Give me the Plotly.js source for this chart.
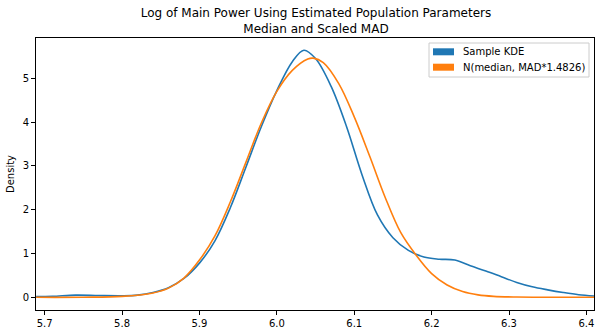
<!DOCTYPE html>
<html>
<head>
<meta charset="utf-8">
<script src="https://cdn.plot.ly/plotly-3.0.1.min.js"></script>
<style>html,body{margin:0;padding:0;background:#fff;}#chart{width:603px;height:334px;}</style>
</head>
<body>
<div id="chart"></div>
<script>
// Sample KDE
var kdeX = [5.689, 5.71, 5.74, 5.77, 5.80, 5.82, 5.84, 5.86, 5.88, 5.90, 5.92, 5.94, 5.96, 5.98, 6.00, 6.02, 6.035, 6.05, 6.07, 6.09, 6.11, 6.13, 6.15, 6.17, 6.19, 6.21, 6.23, 6.25, 6.27, 6.29, 6.31, 6.33, 6.35, 6.37, 6.39, 6.41];
var kdeY = [0.015, 0.02, 0.05, 0.04, 0.035, 0.05, 0.11, 0.22, 0.43, 0.78, 1.29, 2.05, 2.97, 3.90, 4.72, 5.38, 5.64, 5.45, 4.82, 3.90, 2.80, 1.88, 1.36, 1.07, 0.92, 0.87, 0.85, 0.72, 0.60, 0.47, 0.34, 0.24, 0.17, 0.11, 0.06, 0.03];
// N(median, MAD*1.4826)
var normX = [5.689, 5.75, 5.80, 5.84, 5.86, 5.88, 5.90, 5.92, 5.94, 5.96, 5.98, 6.00, 6.02, 6.04, 6.047, 6.06, 6.08, 6.10, 6.12, 6.14, 6.16, 6.18, 6.20, 6.22, 6.24, 6.26, 6.28, 6.31, 6.35, 6.41];
var normY = [0.0, 0.002, 0.02, 0.10, 0.21, 0.44, 0.85, 1.40, 2.18, 3.08, 3.98, 4.70, 5.18, 5.44, 5.46, 5.36, 4.88, 4.12, 3.22, 2.28, 1.48, 0.96, 0.54, 0.28, 0.13, 0.055, 0.022, 0.007, 0.002, 0.0];
var seriesNames = ["Sample KDE", "N(median, MAD*1.4826)"];
var seriesColors = ["#1f77b4", "#ff7f0e"];
var xTicks = [5.7, 5.8, 5.9, 6.0, 6.1, 6.2, 6.3, 6.4];
var xTickText = ["5.7", "5.8", "5.9", "6.0", "6.1", "6.2", "6.3", "6.4"];
var yTicks = [0, 1, 2, 3, 4, 5];

var font = "DejaVu Sans, sans-serif";
var traces = [
  {x: kdeX, y: kdeY, type: "scatter", mode: "lines", name: seriesNames[0], line: {color: seriesColors[0], width: 1.6, shape: "spline", smoothing: 1}, showlegend: false, hoverinfo: "skip"},
  {x: normX, y: normY, type: "scatter", mode: "lines", name: seriesNames[1], line: {color: seriesColors[1], width: 1.6, shape: "spline", smoothing: 1}, showlegend: false, hoverinfo: "skip"}
];

// plot area in pixels: x 36..594, y 38..310
function px(x) { return (x - 36) / 558; }
function py(y) { return (310 - y) / 272; }

var shapes = [
  {type: "rect", xref: "paper", yref: "paper", x0: px(429), x1: px(589), y0: py(77), y1: py(43), line: {color: "#cccccc", width: 1}, fillcolor: "rgba(255,255,255,0.8)", layer: "above"}
];
var annotations = [];
var rowY = [51.8, 67.2];
for (var i = 0; i < seriesNames.length; i++) {
  shapes.push({type: "rect", xref: "paper", yref: "paper", x0: px(433), x1: px(454), y0: py(rowY[i] + 3.5), y1: py(rowY[i] - 3.5), line: {width: 0}, fillcolor: seriesColors[i], layer: "above"});
  annotations.push({xref: "paper", yref: "paper", x: px(461), y: py(rowY[i]), xanchor: "left", yanchor: "middle", showarrow: false, text: seriesNames[i], font: {family: font, size: 10, color: "#000"}});
}

var axisCommon = {
  showgrid: false, zeroline: false, showline: true, linecolor: "#000", linewidth: 1, mirror: true,
  ticks: "outside", ticklen: 4, tickwidth: 1, tickcolor: "#000",
  tickfont: {family: font, size: 10, color: "#000"}
};
var layout = {
  width: 603, height: 334,
  margin: {l: 36, r: 9, t: 38, b: 24, pad: 0},
  paper_bgcolor: "#fff", plot_bgcolor: "#fff",
  title: {text: "Log of Main Power Using Estimated Population Parameters<br>Median and Scaled MAD", font: {family: font, size: 12, color: "#000"}, x: 0.524, xanchor: "center", yref: "container", y: 1 - 17 / 334, yanchor: "middle"},
  xaxis: Object.assign({}, axisCommon, {range: [5.6888, 6.4098], tickvals: xTicks, ticktext: xTickText}),
  yaxis: Object.assign({}, axisCommon, {range: [-0.29, 5.92], tickvals: yTicks, title: {text: "Density", font: {family: font, size: 10, color: "#000"}, standoff: 6}}),
  shapes: shapes,
  annotations: annotations,
  showlegend: false
};
Plotly.newPlot("chart", traces, layout, {displayModeBar: false, staticPlot: true});
</script>
</body>
</html>
